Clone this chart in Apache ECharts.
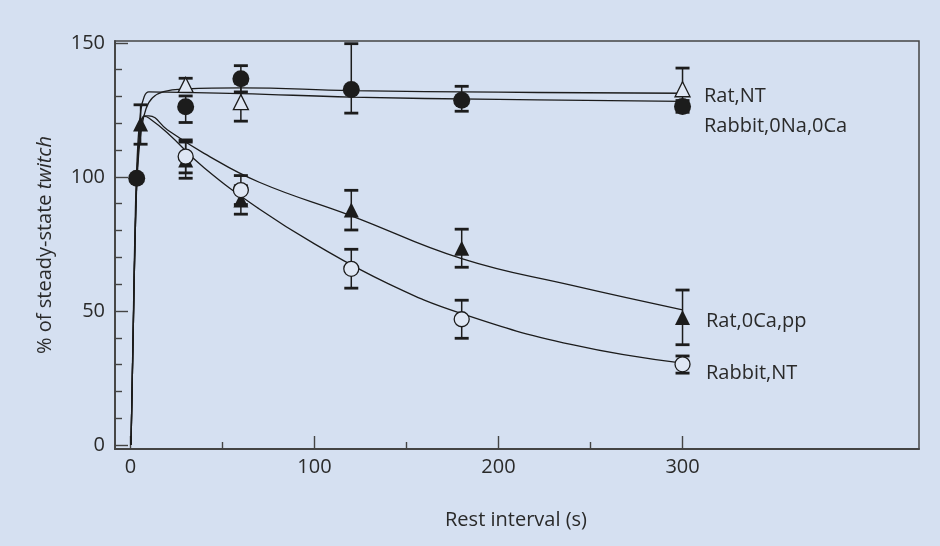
<!DOCTYPE html>
<html><head><meta charset="utf-8">
<script src="https://cdn.jsdelivr.net/npm/echarts@6/dist/echarts.min.js"></script>
<style>html,body{margin:0;padding:0;background:#d5e0f1}#c{width:940px;height:546px}</style>
</head><body><div id="c"></div>
<script>
// ---- tick values ----
const xTicksMajor = [0, 100, 200, 300];
const xTicksMinor = [50, 150, 250];
const yTicksMajor = [0, 50, 100, 150];
const yTicksMinor = [10, 20, 30, 40, 60, 70, 80, 90, 110, 120, 130, 140];

// ---- measured points [rest interval s, % twitch] ----
const ratNT_pts = [[30, 134.3], [60, 127.9], [300, 132.7]];
const ratNT_err = [[30, 131.8, 136.8], [60, 120.8, 135.0], [300, 126.0, 140.6]];

const rabbit0_pts = [[3.4, 99.5], [30, 126.2], [60, 136.6], [120, 132.6], [180, 128.6], [300, 126.3]];
const rabbit0_err = [[30, 120.3, 130.2], [60, 131.7, 141.5], [120, 123.8, 149.7], [180, 124.5, 133.8], [300, 124.1, 128.5]];

const rat0Ca_pts = [[5.5, 119.7], [30, 106.3], [60, 91.4], [120, 87.7], [180, 73.4], [300, 47.6]];
const rat0Ca_err = [[5.5, 112.2, 126.9], [30, 99.5, 113.0], [60, 86.1, 96.7], [120, 80.2, 95.0], [180, 66.3, 80.5], [300, 37.4, 57.8]];

const rabbitNT_pts = [[30, 107.6], [60, 95.1], [120, 65.7], [180, 46.9], [300, 30.1]];
const rabbitNT_err = [[30, 101.5, 113.8], [60, 89.7, 100.5], [120, 58.5, 73.0], [180, 39.8, 54.0], [300, 26.8, 33.2]];

// ---- fitted curves ----
const fitRatNT = [[0.3, 0], [1.5, 42], [2.7, 82], [4, 104], [6, 118], [8.5, 125.5], [12, 129.5], [18, 131.8], [30, 132.8], [60, 133.2], [120, 132.2], [200, 131.6], [300, 131.2]];
const fitRabbit0 = [[0.3, 0], [1.5, 45], [2.7, 88], [4, 112], [5.5, 124], [7.5, 130], [10, 131.7], [20, 131.6], [60, 131.1], [120, 129.8], [200, 128.9], [300, 128.2]];
const fitRat0Ca = [[0.3, 0], [1.5, 42], [2.7, 82], [4, 107], [5.5, 118.5], [7.5, 122.8], [10, 122.8], [20, 117.6], [40, 108.8], [70, 98], [120, 85.5], [180, 69.5], [240, 59.5], [300, 50.4]];
const fitRabbitNT = [[0.3, 0], [1.5, 42], [2.7, 82], [4, 107], [5.5, 118.5], [7.5, 122.6], [10, 122], [20, 116.5], [40, 103.4], [70, 88], [100, 75], [140, 60.2], [180, 49], [240, 37.4], [300, 30.5]];

const seriesNames = ['Rat,NT', 'Rabbit,0Na,0Ca', 'Rat,0Ca,pp', 'Rabbit,NT'];

// ---- style ----
const BG = '#d5e0f1', INK = '#1c1c1c', AX = '#444', TXT = '#2a2a2a';
const FONT = '"Open Sans", sans-serif';
const X_MIN = -8.4, X_MAX = 428.5, Y_MIN = -1.5, Y_MAX = 150.7;

const chart = echarts.init(document.getElementById('c'), null, {renderer: 'canvas'});

function fitSeries(data) {
  return {type: 'line', data, showSymbol: false, smooth: 0.45,
    lineStyle: {color: INK, width: 1.3}, z: 1, silent: true, animation: false};
}
function errSeries(data) {
  return {type: 'custom', data, z: 2, animation: false, silent: true,
    encode: {x: 0, y: [1, 2]},
    renderItem: (params, api) => {
      const x = api.value(0), lo = api.value(1), hi = api.value(2);
      const a = api.coord([x, lo]), b = api.coord([x, hi]);
      const hw = 7, th = 2.8;
      return {type: 'group', children: [
        {type: 'line', shape: {x1: a[0], y1: a[1], x2: b[0], y2: b[1]}, style: {stroke: INK, lineWidth: 1.5}},
        {type: 'rect', shape: {x: a[0] - hw, y: a[1] - th / 2, width: 2 * hw, height: th}, style: {fill: INK}},
        {type: 'rect', shape: {x: b[0] - hw, y: b[1] - th / 2, width: 2 * hw, height: th}, style: {fill: INK}}
      ]};
    }};
}
function markSeries(name, data, symbol, size, filled) {
  return {type: 'scatter', name, data, symbol, symbolSize: size, z: 3, animation: false,
    itemStyle: filled ? {color: INK, opacity: 1} : {color: '#dfe7f4', borderColor: INK, borderWidth: 1.3, opacity: 1}};
}

const tickStyle = {color: AX, width: 1.4};
const labelStyle = {fontSize: 20, color: TXT, fontFamily: FONT};

chart.setOption({
  backgroundColor: BG,
  animation: false,
  grid: {left: 115, right: 21, top: 41, bottom: 97, show: true, borderColor: AX, borderWidth: 1.5,
    backgroundColor: 'transparent', outerBoundsMode: 'none'},
  xAxis: [
    {type: 'value', min: X_MIN, max: X_MAX, position: 'bottom',
      axisLine: {show: true, onZero: false, lineStyle: {color: AX, width: 1.8}},
      axisTick: {show: true, inside: true, length: 13, customValues: xTicksMajor, lineStyle: tickStyle},
      axisLabel: Object.assign({customValues: xTicksMajor, margin: 8}, labelStyle),
      splitLine: {show: false}},
    {type: 'value', min: X_MIN, max: X_MAX, position: 'bottom',
      axisLine: {show: false, onZero: false},
      axisTick: {show: true, inside: true, length: 7, customValues: xTicksMinor, lineStyle: tickStyle},
      axisLabel: {show: false}, splitLine: {show: false}}
  ],
  yAxis: [
    {type: 'value', min: Y_MIN, max: Y_MAX, position: 'left',
      axisLine: {show: true, onZero: false, lineStyle: {color: AX, width: 1.8}},
      axisTick: {show: true, inside: true, length: 13, customValues: yTicksMajor, lineStyle: tickStyle},
      axisLabel: Object.assign({customValues: yTicksMajor, margin: 10}, labelStyle),
      splitLine: {show: false}},
    {type: 'value', min: Y_MIN, max: Y_MAX, position: 'left',
      axisLine: {show: false, onZero: false},
      axisTick: {show: true, inside: true, length: 7, customValues: yTicksMinor, lineStyle: tickStyle},
      axisLabel: {show: false}, splitLine: {show: false}}
  ],
  series: [
    fitSeries(fitRatNT), fitSeries(fitRabbit0), fitSeries(fitRat0Ca), fitSeries(fitRabbitNT),
    errSeries(ratNT_err), errSeries(rabbit0_err), errSeries(rat0Ca_err), errSeries(rabbitNT_err),
    markSeries(seriesNames[0], ratNT_pts, 'triangle', 15, false),
    markSeries(seriesNames[1], rabbit0_pts, 'circle', 17, true),
    markSeries(seriesNames[2], rat0Ca_pts, 'triangle', 15, true),
    markSeries(seriesNames[3], rabbitNT_pts, 'circle', 15, false)
  ],
  graphic: [
    {type: 'text', x: 45, y: 245, rotation: Math.PI / 2, silent: true,
      style: {text: '{a|% of steady-state }{b|twitch}', align: 'center', verticalAlign: 'middle',
        fill: TXT, fontSize: 20, fontFamily: FONT,
        rich: {a: {fontSize: 20, fontFamily: FONT, fill: TXT}, b: {fontSize: 20, fontFamily: FONT, fontStyle: 'italic', fill: TXT}}}},
    {type: 'text', x: 516, y: 520, silent: true,
      style: {text: 'Rest interval (s)', align: 'center', verticalAlign: 'middle', fill: TXT, fontSize: 20, fontFamily: FONT}},
    {type: 'text', x: 704, y: 96, silent: true,
      style: {text: seriesNames[0], align: 'left', verticalAlign: 'middle', fill: TXT, fontSize: 20, fontFamily: FONT}},
    {type: 'text', x: 704, y: 126, silent: true,
      style: {text: seriesNames[1], align: 'left', verticalAlign: 'middle', fill: TXT, fontSize: 20, fontFamily: FONT}},
    {type: 'text', x: 706, y: 321, silent: true,
      style: {text: seriesNames[2], align: 'left', verticalAlign: 'middle', fill: TXT, fontSize: 20, fontFamily: FONT}},
    {type: 'text', x: 706, y: 373, silent: true,
      style: {text: seriesNames[3], align: 'left', verticalAlign: 'middle', fill: TXT, fontSize: 20, fontFamily: FONT}}
  ]
});
</script>
</body></html>
